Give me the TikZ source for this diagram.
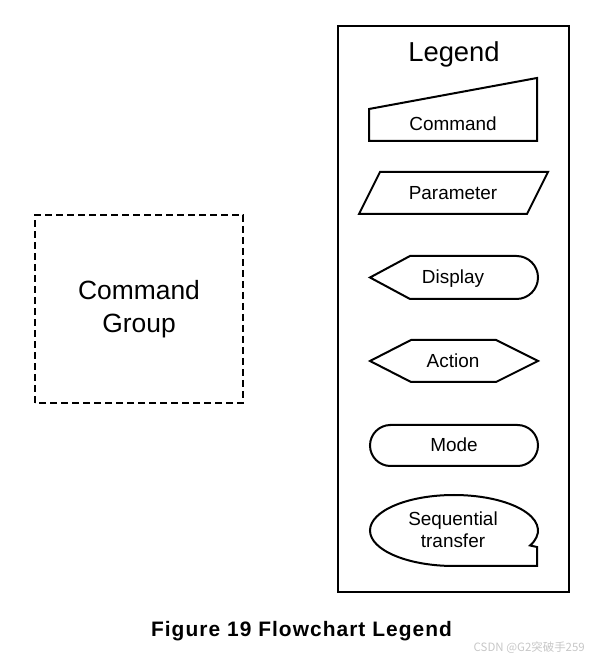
\documentclass[tikz,border=0pt]{standalone}
\usepackage{fontspec}
\setmainfont{Liberation Sans}
\newfontfamily\cjk{Noto Sans CJK SC}
\begin{document}
\begin{tikzpicture}[line join=miter,
  shape_line/.style={draw,line width=2bp},
  shape_text/.style={inner sep=0pt,font=\fontsize{19}{22}\selectfont},
]
\useasboundingbox (0bp,0bp) rectangle (589bp,658bp);
%%
\draw [line width=1.2bp,dash pattern=on 7bp off 4bp] (35bp,255bp) rectangle (243bp,443bp);
\node (node_group) at (139bp,349bp) [align=center,inner sep=0pt,font=\fontsize{26.5}{33}\selectfont] {Command\\Group};
%
\draw [shape_line] (338bp,66bp) rectangle (569bp,632bp);
\node (node_legend) at (454bp,596.5bp) [anchor=base,inner sep=0pt,font=\fontsize{27.5}{33}\selectfont] {Legend};
%
\draw [shape_line] (369bp,549bp) -- (537bp,580bp) -- (537bp,517bp) -- (369bp,517bp) -- cycle;
  \node (node_0) at (453bp,527bp) [shape_text,anchor=base] {Command};
\draw [shape_line] (380bp,486bp) -- (548bp,486bp) -- (527bp,444bp) -- (359bp,444bp) -- cycle;
  \node (node_1) at (453bp,458bp) [shape_text,anchor=base] {Parameter};
\draw [shape_line] (370bp,380.5bp) -- (410bp,402bp) -- (516.5bp,402bp) arc [start angle=90,end angle=-90,radius=21.5bp] -- (410bp,359bp) -- cycle;
  \node (node_2) at (453bp,374bp) [shape_text,anchor=base] {Display};
\draw [shape_line] (370bp,297bp) -- (411bp,318bp) -- (496bp,318bp) -- (538bp,297bp) -- (496bp,276bp) -- (411bp,276bp) -- cycle;
  \node (node_3) at (453bp,290bp) [shape_text,anchor=base] {Action};
\draw [shape_line] (390.5bp,233bp) -- (517.5bp,233bp) arc [start angle=90,end angle=-90,radius=20.5bp] -- (390.5bp,192bp) arc [start angle=270,end angle=90,radius=20.5bp] -- cycle;
  \node (node_4) at (454bp,206.5bp) [shape_text,anchor=base] {Mode};
\draw [shape_line] (537bp,92bp) -- (454bp,92bp) arc [start angle=270,end angle=-25,x radius=84bp,y radius=35.5bp] -- (537bp,111bp) -- cycle;
  \node (node_5) at (453bp,128bp) [shape_text,align=center] {Sequential\\transfer};
%
\node (node_caption) at (301.5bp,21.3bp) [anchor=base,inner sep=0pt,font=\bfseries\fontsize{21}{25}\selectfont\addfontfeature{LetterSpace=5}] {Figure 19 Flowchart Legend};
\node (node_mark) at (585bp,7bp) [anchor=base east,inner sep=0pt,text=black!22,font=\cjk\fontsize{11.5}{13}\selectfont] {CSDN @G2突破手259};
%
\end{tikzpicture}
\end{document}
